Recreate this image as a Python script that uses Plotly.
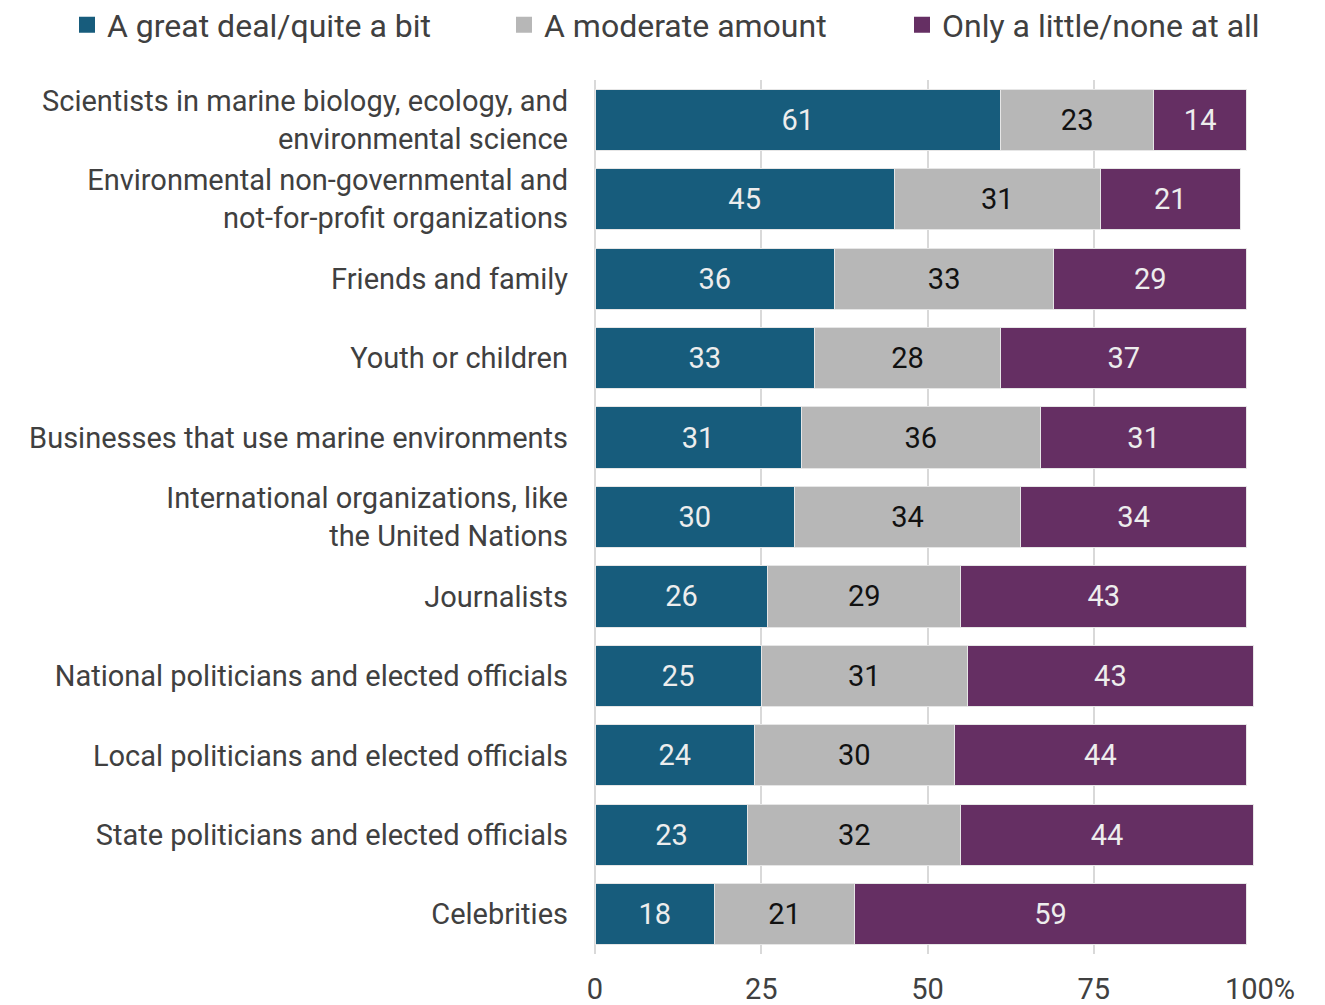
import plotly.graph_objects as go

# Survey groups, top to bottom
categories = [
    "Scientists in marine biology, ecology, and<br>environmental science",
    "Environmental non-governmental and<br>not-for-profit organizations",
    "Friends and family",
    "Youth or children",
    "Businesses that use marine environments",
    "International organizations, like<br>the United Nations",
    "Journalists",
    "National politicians and elected officials",
    "Local politicians and elected officials",
    "State politicians and elected officials",
    "Celebrities",
]

great_deal = [61, 45, 36, 33, 31, 30, 26, 25, 24, 23, 18]
moderate = [23, 31, 33, 28, 36, 34, 29, 31, 30, 32, 21]
little_none = [14, 21, 29, 37, 31, 34, 43, 43, 44, 44, 59]

series_names = ["A great deal/quite a bit", "A moderate amount", "Only a little/none at all"]
tick_vals = [0, 25, 50, 75, 100]
tick_text = ["0", "25", "50", "75", "100%"]

colors = ["#175C7C", "#B7B7B7", "#652F63"]
text_colors = ["#EDEDED", "#111111", "#EDEDED"]
FONT = "Roboto, Arial, sans-serif"

fig = go.Figure()

for name, vals, col, tcol in zip(series_names, [great_deal, moderate, little_none], colors, text_colors):
    fig.add_trace(go.Bar(
        y=categories,
        x=vals,
        orientation="h",
        name=name,
        marker=dict(color=col, line=dict(color="#E6E6E6", width=1)),
        text=[str(v) for v in vals],
        textposition="inside",
        insidetextanchor="middle",
        textangle=0,
        textfont=dict(color=tcol, size=29, family=FONT),
        showlegend=False,
        cliponaxis=False,
    ))

# Legend entries, each in its own legend box placed along the top
legend_ids = ["legend", "legend2", "legend3"]
legend_x_px = [67, 504, 902]
for name, col, lid in zip(series_names, colors, legend_ids):
    fig.add_trace(go.Scatter(
        x=[None], y=[None], mode="markers", name=name,
        marker=dict(symbol="square", size=18, color=col),
        legend=lid, showlegend=True,
    ))

plot_left, plot_w = 595, 665
plot_top, plot_h = 80, 874
legend_common = dict(
    orientation="h", yanchor="middle", y=1 + (plot_top - 25) / plot_h, xanchor="left",
    font=dict(size=32, color="#404040", family=FONT),
    bgcolor="rgba(0,0,0,0)", itemwidth=30,
)
layout_legends = {}
for lid, px in zip(legend_ids, legend_x_px):
    layout_legends[lid] = dict(legend_common, x=(px - plot_left) / plot_w)

fig.update_layout(
    width=1325, height=1005,
    margin=dict(l=595, r=65, t=80, b=51, autoexpand=False),
    barmode="stack",
    bargap=0.23,
    plot_bgcolor="white", paper_bgcolor="white",
    font=dict(family=FONT, color="#404040"),
    uniformtext=dict(minsize=10, mode="show"),
    **layout_legends,
)

fig.update_xaxes(
    range=[0, 100],
    tickvals=tick_vals, ticktext=tick_text,
    showgrid=True, gridcolor="#D9D9D9", gridwidth=2,
    zeroline=True, zerolinecolor="#D9D9D9", zerolinewidth=2,
    showline=False, ticks="",
    tickfont=dict(size=29, color="#404040", family=FONT),
    ticklabelstandoff=15,
    automargin=False,
    fixedrange=True,
)
fig.update_yaxes(
    autorange="reversed",
    showgrid=False, ticks="",
    tickfont=dict(size=29, color="#404040", family=FONT),
    ticklabelstandoff=26,
    automargin=False,
    fixedrange=True,
)

fig.write_html("out.html")
